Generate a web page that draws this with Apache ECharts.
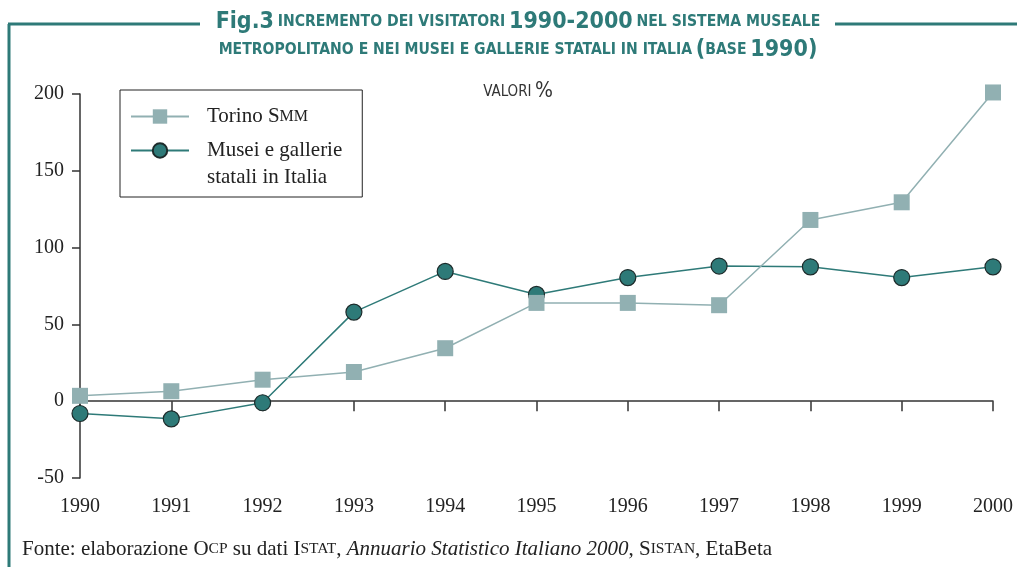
<!DOCTYPE html>
<html>
<head>
<meta charset="utf-8">
<script src="https://cdn.jsdelivr.net/npm/echarts@6/dist/echarts.min.js"></script>
<style>
  html, body { margin: 0; padding: 0; background: #fff; }
  #chart { width: 1017px; height: 567px; }
</style>
</head>
<body>
<div id="chart"></div>
<script>
// dati
const years = ['1990', '1991', '1992', '1993', '1994', '1995', '1996', '1997', '1998', '1999', '2000']
const torino = [3.5, 6.5, 14, 19, 34.5, 64, 64, 62.5, 118, 129.5, 201]
const musei = [-8, -11.5, -1, 58, 84.5, 69.5, 80.5, 88, 87.5, 80.5, 87.5]
const yTicks = { min: -50, max: 200, interval: 50 }

const TEAL = '#2e7a78'
const GREY = '#91b0b2'
const serif = '"Liberation Serif", "DejaVu Serif", serif'
const cond = '"DejaVu Sans Condensed", "DejaVu Sans", sans-serif'

const chart = echarts.init(document.getElementById('chart'))

const options = {
  animation: false,
  grid: { left: 80, right: 24, top: 94, bottom: 89, containLabel: false },
  // legenda
  legend: {
    left: 120,
    top: 90,
    orient: 'vertical',
    borderColor: '#222',
    borderWidth: 1,
    padding: [13, 20, 6, 10],
    itemWidth: 58,
    itemHeight: 18,
    itemGap: -20,
    data: [
      { name: 'Torino SMM' },
      { name: 'Musei e gallerie\nstatali in Italia', textStyle: { padding: [27, 0, 0, 13] } }
    ],
    formatter: name => name === 'Torino SMM' ? 'Torino S{sc|MM}' : name,
    textStyle: {
      fontFamily: serif,
      fontSize: 21,
      lineHeight: 27,
      color: '#222',
      padding: [0, 0, 0, 13],
      rich: { sc: { fontFamily: serif, fontSize: 16, color: '#222' } }
    }
  },
  xAxis: [
    {
      // asse sullo zero, solo linea e tacche
      type: 'category',
      data: years,
      boundaryGap: false,
      axisLine: { onZero: true, lineStyle: { color: '#333', width: 1.5 } },
      axisTick: { show: true, length: 10, lineStyle: { color: '#333', width: 1.5 } },
      axisLabel: { show: false }
    },
    {
      // etichette in basso
      type: 'category',
      data: years,
      position: 'bottom',
      boundaryGap: false,
      axisLine: { show: false, onZero: false },
      axisTick: { show: false },
      axisLabel: { margin: 19, fontFamily: serif, fontSize: 20, color: '#222' }
    }
  ],
  yAxis: {
    type: 'value',
    min: yTicks.min,
    max: yTicks.max,
    interval: yTicks.interval,
    splitLine: { show: false },
    axisLine: { show: true, lineStyle: { color: '#333', width: 1.5 } },
    axisTick: { show: true, length: 8, lineStyle: { color: '#333', width: 1.5 } },
    axisLabel: { margin: 16, fontFamily: serif, fontSize: 20, color: '#222' }
  },
  series: [
    {
      name: 'Musei e gallerie\nstatali in Italia',
      type: 'line',
      data: musei,
      clip: false,
      symbol: 'circle',
      symbolSize: 16,
      lineStyle: { color: TEAL, width: 1.5 },
      itemStyle: { color: TEAL, borderColor: '#1d2b2b', borderWidth: 1.2 }
    },
    {
      name: 'Torino SMM',
      type: 'line',
      data: torino,
      clip: false,
      symbol: 'rect',
      symbolSize: 16,
      lineStyle: { color: GREY, width: 1.5 },
      itemStyle: { color: GREY, borderWidth: 0 }
    }
  ],
  graphic: [
    // cornice
    { type: 'line', shape: { x1: 9, y1: 24, x2: 9, y2: 567 }, style: { stroke: TEAL, lineWidth: 3 } },
    { type: 'line', shape: { x1: 8, y1: 24, x2: 200, y2: 24 }, style: { stroke: TEAL, lineWidth: 3 } },
    { type: 'line', shape: { x1: 835, y1: 24, x2: 1017, y2: 24 }, style: { stroke: TEAL, lineWidth: 3 } },
    // titolo
    {
      type: 'text',
      x: 518,
      y: 8,
      style: {
        text: '{big|Fig.3} {sm|INCREMENTO DEI VISITATORI} {big|1990-2000} {sm|NEL SISTEMA MUSEALE}\n' +
          '{sm|METROPOLITANO E NEI MUSEI E GALLERIE STATALI IN ITALIA} {big|(}{sm|BASE} {big|1990)}',
        align: 'center',
        verticalAlign: 'top',
        fill: TEAL,
        fontFamily: cond,
        fontWeight: 'bold',
        lineHeight: 28,
        rich: {
          big: { fontFamily: cond, fontWeight: 'bold', fontSize: 23, fill: TEAL, lineHeight: 28 },
          sm: { fontFamily: cond, fontWeight: 'bold', fontSize: 15.6, fill: TEAL, lineHeight: 28 }
        }
      }
    },
    // unità
    {
      type: 'text',
      x: 518,
      y: 92,
      style: {
        text: '{a|VALORI} {b|%}',
        align: 'center',
        verticalAlign: 'middle',
        rich: {
          a: { fontFamily: cond, fontSize: 15, fill: '#333' },
          b: { fontFamily: cond, fontSize: 21, fill: '#333' }
        }
      }
    },
    // fonte
    {
      type: 'text',
      x: 22,
      y: 549,
      style: {
        text: 'Fonte: elaborazione O{sc|CP} su dati I{sc|STAT}, {it|Annuario Statistico Italiano 2000}, S{sc|ISTAN}, EtaBeta',
        verticalAlign: 'middle',
        fontFamily: serif,
        fontSize: 21,
        fill: '#222',
        rich: {
          sc: { fontFamily: serif, fontSize: 15.5, fill: '#222' },
          it: { fontFamily: serif, fontSize: 21, fontStyle: 'italic', fill: '#222' }
        }
      }
    }
  ]
}

chart.setOption(options)
</script>
</body>
</html>
